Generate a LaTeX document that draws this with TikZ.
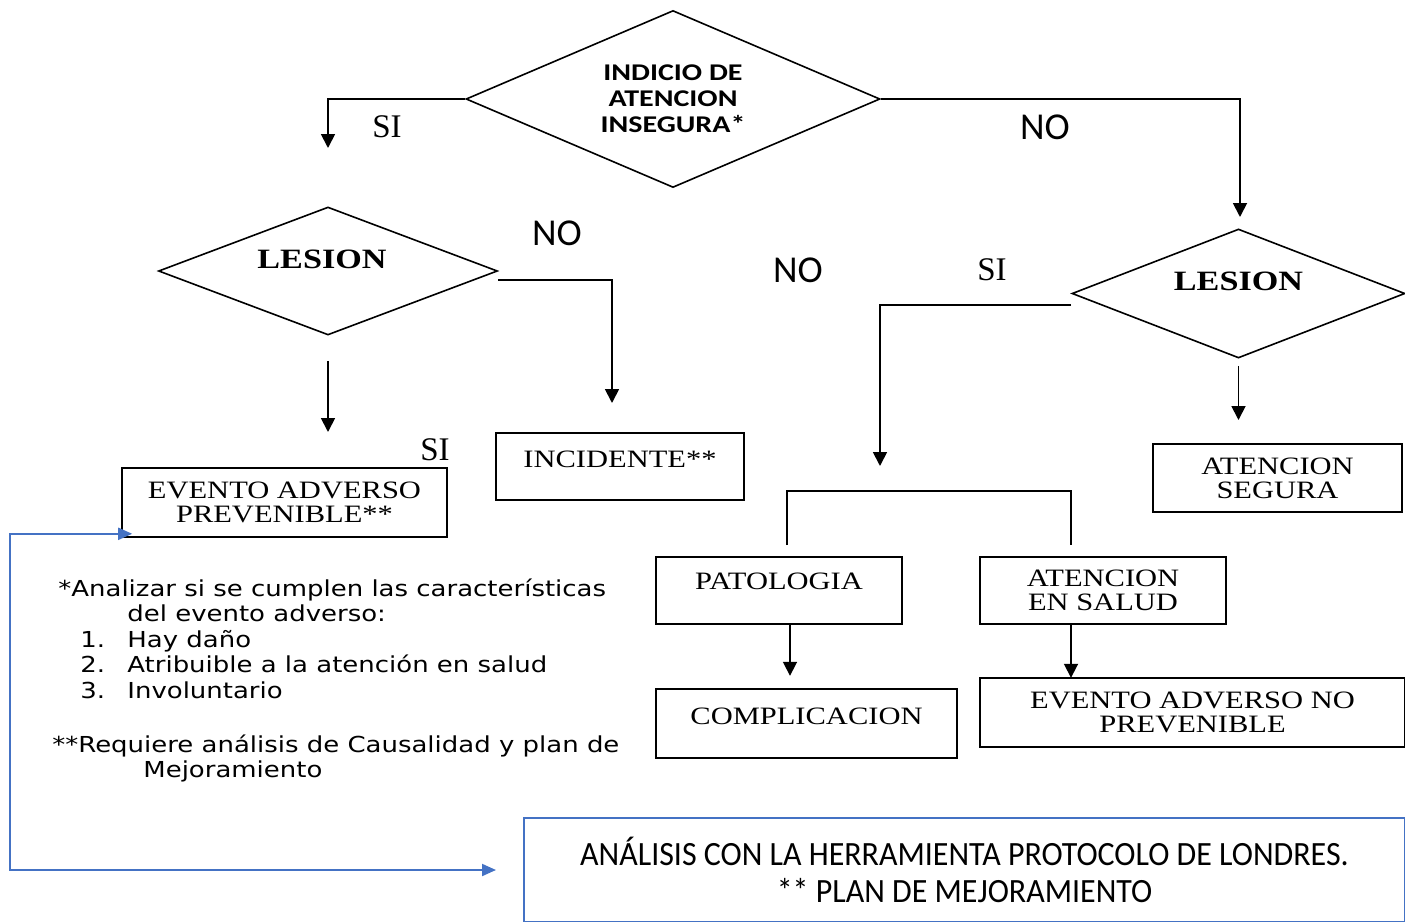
\documentclass[tikz,border=0pt]{standalone}
\usepackage{fontspec}
\setmainfont{Liberation Serif}
\newfontfamily\boxfont[FakeStretch=1.22]{Liberation Serif}
\newfontfamily\lesfont[FakeStretch=1.22]{Liberation Serif}
\newfontfamily\indfont[FakeStretch=1.25]{Carlito}
\newfontfamily\calfont{Carlito}
\newfontfamily\planfont[FakeStretch=0.94]{Carlito}
\newfontfamily\notefont[FakeStretch=1.18]{DejaVu Sans}
\usetikzlibrary{shapes.geometric,arrows.meta,positioning,calc}
\definecolor{linkblue}{HTML}{4472C4}

\begin{document}
\begin{tikzpicture}[x=0.5pt, y=-0.5pt,
    dec/.style={diamond, draw, line width=0.8pt, inner sep=0pt},
    lesion/.style={yshift=6pt, font=\lesfont\bfseries\fontsize{14}{14}\selectfont},
    box/.style={draw, line width=0.8pt, inner sep=0pt, align=center, font=\boxfont\fontsize{12.5}{12}\selectfont},
    arr/.style={line width=0.9pt, -{Triangle[length=7pt,width=7pt]}},
    si/.style={font=\fontsize{16.5}{16.5}\selectfont, inner sep=0pt},
    no/.style={font=\calfont\fontsize{19}{19}\selectfont, inner sep=0pt},
    note/.style={font=\notefont\fontsize{11}{12.75}\selectfont, align=left, inner sep=0pt},
    link/.style={linkblue, line width=1pt, {Triangle[length=7pt,width=6pt]}-{Triangle[length=7pt,width=6pt]}}]
    \useasboundingbox (0,0) rectangle (1405,922);

    % Decisions
    \node[dec, minimum width=207pt, minimum height=88.5pt, aspect=2.34, align=center,
          font=\indfont\bfseries\fontsize{12}{13}\selectfont] (ind) at (673,99) {INDICIO DE\\ATENCION\\INSEGURA*};
    \node[dec, minimum width=169.5pt, minimum height=64pt, aspect=2.65, label={[lesion, xshift=-3pt]center:LESION}] (lesL) at (328,271) {};
    \node[dec, minimum width=166.5pt, minimum height=64.5pt, aspect=2.58, label={[lesion]center:LESION}] (lesR) at (1238.5,293.5) {};

    % Result boxes
    \node[box, minimum width=162.5pt, minimum height=34.5pt] (eap) at (284.5,502.5) {EVENTO ADVERSO\\PREVENIBLE**};
    \node[box, minimum width=124pt, minimum height=33.5pt, text depth=7.5pt] (inc) at (620,466.5) {INCIDENTE**};
    \node[box, minimum width=124.5pt, minimum height=34pt] (seg) at (1277.5,478) {ATENCION\\SEGURA};
    \node[box, minimum width=123pt, minimum height=33.5pt, text depth=9.5pt] (pat) at (779,590.5) {PATOLOGIA};
    \node[box, minimum width=123pt, minimum height=33.5pt] (aes) at (1103,590.5) {ATENCION\\EN SALUD};
    \node[box, minimum width=150.5pt, minimum height=34.5pt, text depth=7.5pt] (comp) at (806.5,723.5) {COMPLICACION};
    \node[box, minimum width=212.5pt, minimum height=34.5pt] (eanp) at (1192.5,712.5) {EVENTO ADVERSO NO\\PREVENIBLE};

    % Branch labels
    \node[si] (siTop) at (387,127) {SI};
    \node[no] (noTop) at (1045,127) {NO};
    \node[no] (noLes) at (557,233) {NO};
    \node[si] (siLes) at (435,450) {SI};
    \node[no] (noMid) at (798,270) {NO};
    \node[si] (siMid) at (992,270) {SI};

    % Free arrow ends
    \coordinate (siEnd) at (328,148);
    \coordinate (noEnd) at (1240,217);
    \coordinate (incEnd) at (612,403);
    \coordinate (eapEnd) at (328,432);
    \coordinate (brkEnd) at (880,466);
    \coordinate (segEnd) at (1238.5,420);
    \coordinate (brkL) at (787,545);
    \coordinate (brkR) at (1071,545);
    \coordinate (corner) at (10,870);

    % Arrows
    \draw[arr] (ind.west) -| (siEnd);
    \draw[arr] (ind.east) -| (noEnd);
    \draw[arr] ([yshift=-4.5pt]lesL.east) -| (incEnd);
    \draw[arr] ([yshift=-12.5pt]lesL.south) -- (eapEnd);
    \draw[arr] ([yshift=-5.75pt]lesR.west) -| (brkEnd);
    \draw[arr] ([yshift=-3.5pt]lesR.south) -- (segEnd);
    \draw[line width=0.8pt] (brkL) -- ++(0,-54) -| (brkR);
    \draw[arr] ([xshift=5.5pt]pat.south) -- ++(0,51);
    \draw[arr] ([xshift=-16pt]aes.south) -- ++(0,53);

    % Notes
    \node[note, anchor=north west] (notaA) at (58,578) {*Analizar si se cumplen las características\\
        \hspace*{34.5pt}del evento adverso:\\
        \hspace*{11pt}\makebox[23.5pt][l]{1.}Hay daño\\
        \hspace*{11pt}\makebox[23.5pt][l]{2.}Atribuible a la atención en salud\\
        \hspace*{11pt}\makebox[23.5pt][l]{3.}Involuntario};
    \node[note, anchor=north west] (notaB) at (52,734) {**Requiere análisis de Causalidad y plan de\\
        \hspace*{45.5pt}Mejoramiento};

    % London protocol
    \node[draw=linkblue, line width=1pt, minimum width=440.5pt, minimum height=52pt, inner sep=0pt, align=center,
          font=\planfont\fontsize{17}{18.5}\selectfont] (plan) at (964.5,870) {ANÁLISIS CON LA HERRAMIENTA PROTOCOLO DE LONDRES.\\** PLAN DE MEJORAMIENTO};
    \draw[link] ([xshift=-13.5pt]plan.west) -- (corner) |- ([xshift=5.5pt,yshift=2pt]eap.south west);
\end{tikzpicture}
\end{document}
